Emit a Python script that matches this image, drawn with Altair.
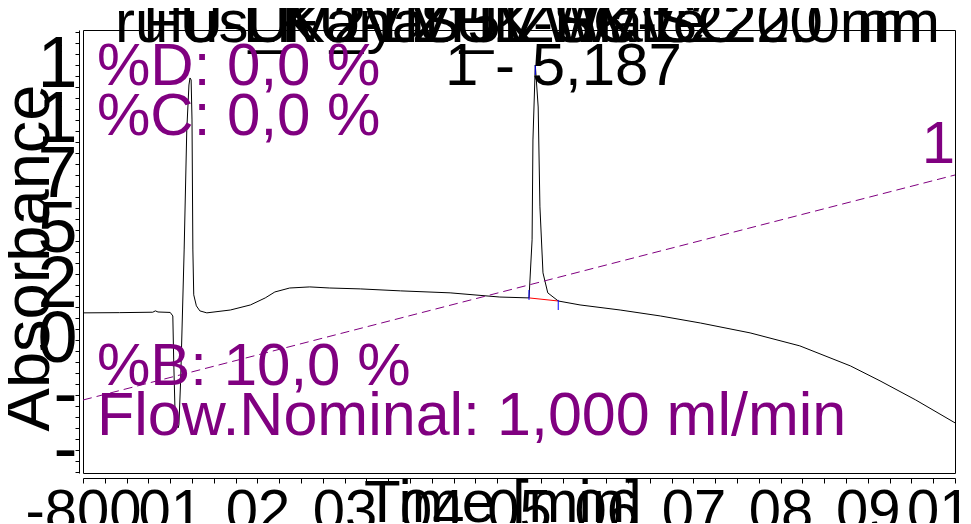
import altair as alt
import pandas as pd

FONT = "Liberation Sans"
PURPLE = "#800080"

# ---------------- data ----------------
time_min = [0.00, 0.42, 0.80, 0.83, 0.86, 1.00, 1.03, 1.04, 1.055, 1.08, 1.09, 1.10,
            1.12, 1.16, 1.19, 1.215, 1.227, 1.24, 1.25, 1.26, 1.27, 1.30, 1.34, 1.42,
            1.69, 1.92, 2.09, 2.20, 2.37, 2.60, 2.83, 3.18, 3.64, 4.21, 4.78, 5.115,
            5.15, 5.16, 5.187, 5.22, 5.24, 5.275, 5.33, 5.45, 5.70, 6.16, 6.62, 7.08,
            7.65, 8.22, 8.80, 9.14, 9.55, 10.00]
absorbance = [123, 124, 126, 132, 127, 125, 109, -91, -318, -391, -400, -386,
              -182, 409, 954, 1159, 1191, 1182, 1000, 409, 205, 155, 132, 123,
              136, 159, 191, 218, 236, 241, 236, 232, 223, 214, 195, 191,
              455, 909, 1250, 1059, 605, 305, 214, 177, 159, 136, 109, 77,
              32, -27, -118, -186, -273, -377]

grad_time = [0.0, 10.0]
grad_pct_b = [10.0, 100.0]

int_time = [5.115, 5.45]
int_abs = [191, 177]

marker_time = [5.115, 5.187, 5.45]
marker_lo = [182, 1205, 136]
marker_hi = [227, 1250, 182]

x_major = [0, 1, 2, 3, 4, 5, 6, 7, 8, 9, 10]
x_major_text = ["-800", "01", "02", "03", "04", "05", "06", "07", "08", "09", "010"]
y_major = [-500, -250, 0, 250, 500, 750, 1000, 1250]
y_major_text = ["-", "-", "0", "2", "5", "7", "1", "1"]

title_left = ["rufus_FU-LV 5 ZHK-SC", "FU-LK 2y ZHK-SC f"]
title_right = ["UV_VIS_1 WVL:220.0 nm", "Kanal UV Wave 220 nm"]
gradient_labels = ["%D: 0,0 %", "%C: 0,0 %", "%B: 10,0 %", "Flow.Nominal: 1,000 ml/min"]
gradient_end_label = "1"
peak_label = "1 - 5,187"
x_title = "Time [min]"
y_title = "Absorbance"

# ---------------- tables ----------------
trace_df = pd.DataFrame({"t": time_min, "a": absorbance})
grad_df = pd.DataFrame({"t": grad_time, "b": grad_pct_b})
int_df = pd.DataFrame({"t": int_time, "a": int_abs})
mark_df = pd.DataFrame({"t": marker_time, "lo": marker_lo, "hi": marker_hi})

x_ticks = [i * 0.25 for i in range(41)]
y_ticks = list(range(-600, 1401, 50))


def ternary(values, texts):
    parts = [f"datum.value == {v} ? '{s}'" for v, s in zip(values, texts)]
    return " : ".join(parts) + " : ''"


x_scale = alt.Scale(domain=[0, 10], nice=False, zero=False)
y_scale = alt.Scale(domain=[-605, 1409], nice=False, zero=False)
b_scale = alt.Scale(domain=[-19.2, 158], nice=False, zero=False)

x_axis = alt.Axis(values=x_ticks, labelExpr=ternary(x_major, x_major_text),
                  labelFontSize=58, labelFont=FONT, labelColor="black",
                  labelBaseline="top", labelPadding=0, labelOverlap=False,
                  labelFlush=False, tickSize=5, tickColor="black",
                  domainColor="black", offset=5, grid=False, title=None)
y_axis = alt.Axis(values=y_ticks, labelExpr=ternary(y_major, y_major_text),
                  labelFontSize=72, labelFont=FONT, labelColor="black",
                  labelBaseline="middle", labelAlign="right", labelPadding=-2,
                  labelOverlap=False, labelFlush=False, tickSize=4,
                  tickColor="black", domainColor="black", offset=4,
                  grid=False, title=None)

X = alt.X("t:Q", scale=x_scale, axis=x_axis)

trace = alt.Chart(trace_df).mark_line(color="black", strokeWidth=1).encode(
    x=X, y=alt.Y("a:Q", scale=y_scale, axis=y_axis))

gradient = alt.Chart(grad_df).mark_line(
    color=PURPLE, strokeWidth=1, strokeDash=[9, 5]).encode(
    x=X, y=alt.Y("b:Q", scale=b_scale, axis=None))

integ = alt.Chart(int_df).mark_line(color="red", strokeWidth=1).encode(
    x=X, y=alt.Y("a:Q", scale=y_scale, axis=None))

markers = alt.Chart(mark_df).mark_rule(color="blue", strokeWidth=1).encode(
    x=X, y=alt.Y("lo:Q", scale=y_scale, axis=None), y2="hi:Q")

one = alt.Data(values=[{}])


def label(text, x, y, size, color="black", align="left", angle=0):
    kw = dict(font=FONT, fontSize=size, color=color, align=align,
              baseline="alphabetic")
    if angle:
        kw["angle"] = angle
    return alt.Chart(one).mark_text(**kw).encode(
        x=alt.value(x), y=alt.value(y), text=alt.value(text))


texts = [
    label(title_left[0], 32, 12, 60),
    label(title_left[1], 60, 12, 60),
    label(title_right[0], 857, 12, 60, align="right"),
    label(title_right[1], 840, 12, 60, align="right"),
    label(gradient_labels[0], 14, 55, 60, PURPLE),
    label(gradient_labels[1], 14, 105, 60, PURPLE),
    label(gradient_labels[2], 14, 355, 60, PURPLE),
    label(gradient_labels[3], 14, 405, 61, PURPLE),
    label(gradient_end_label, 872, 133, 60, PURPLE, align="right"),
    label(peak_label, 362, 55, 60),
    label(x_title, 420, 492, 60, align="center"),
    label(y_title, -34, 228, 65, align="center", angle=270),
]

chart = alt.layer(trace, gradient, integ, markers, *texts).resolve_scale(
    y="independent"
).properties(
    width=872, height=443,
    padding={"left": 75, "top": 22, "right": 6, "bottom": 50},
    autosize=alt.AutoSizeParams(type="none"),
    background="white",
).configure_view(stroke="black", strokeWidth=1)

chart.save("out.html", embed_options={"renderer": "svg", "actions": False})
